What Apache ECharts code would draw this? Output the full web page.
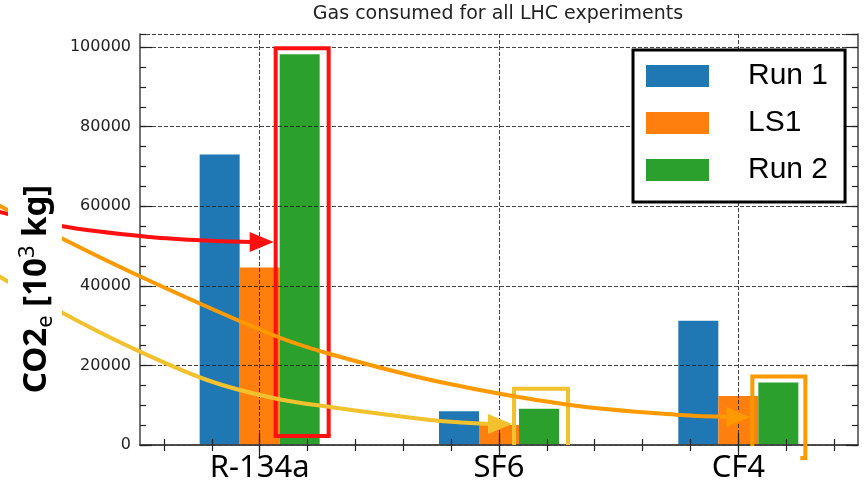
<!DOCTYPE html>
<html>
<head>
<meta charset="utf-8">
<script src="https://cdn.jsdelivr.net/npm/echarts@6/dist/echarts.min.js"></script>
<style>
  html, body { margin: 0; padding: 0; background: #fff; }
  #chart { width: 864px; height: 486px; }
</style>
</head>
<body>
<div id="chart"></div>
<script>
// ---------------- data ----------------
const categories = ['R-134a', 'SF6', 'CF4'];
const seriesNames = ['Run 1', 'LS1', 'Run 2'];
const run1 = [73000, 8500, 31200];
const ls1 = [44600, 5000, 12300];
const run2 = [98200, 9100, 15700];
const yMin = 0;
const yMax = 103300;
const yMajorStep = 20000;
const yMinorStep = 5000;
const minorXSlots = ['m0','m1','m2','m3','m4','m5','m6','m7','m8','m9','m10','m11','m12','m13','m14'];

// ---------------- styles ----------------
const COLORS = ['#1f77b4', '#ff7f0e', '#2ca02c'];
const BAR_W = 40;
const AXIS_COLOR = '#444';
const gridLine = { show: true, lineStyle: { color: '#222', width: 1, type: [4, 2], opacity: 0.85 } };

const chart = echarts.init(document.getElementById('chart'), null, { renderer: 'canvas' });

function xAx(pos, data, tickLen, withLine, extra) {
  return Object.assign({
    type: 'category', position: pos, data: data, boundaryGap: true, z: 3,
    axisLine: { show: withLine, lineStyle: { color: AXIS_COLOR, width: 1.5 } },
    axisTick: { show: true, inside: true, alignWithLabel: true, interval: 0, length: tickLen, lineStyle: { color: '#222', width: 1.2 } },
    axisLabel: { show: false },
    splitLine: { show: false }
  }, extra || {});
}
function yAx(pos, step, tickLen, withLine, extra) {
  return Object.assign({
    type: 'value', position: pos, min: yMin, max: yMax, interval: step, z: 3,
    axisLine: { show: withLine, lineStyle: { color: AXIS_COLOR, width: 1.5 } },
    axisTick: { show: true, inside: true, length: tickLen, lineStyle: { color: '#222', width: 1.2 } },
    axisLabel: { show: false },
    splitLine: { show: false }
  }, extra || {});
}

const option = {
  animation: false,
  backgroundColor: '#fff',
  title: {
    text: 'Gas consumed for all LHC experiments',
    left: 498, top: 0, textAlign: 'center',
    padding: [5, 0, 4, 0],
    textStyle: { fontFamily: 'DejaVu Sans', fontSize: 19, fontWeight: 'normal', color: '#222' }
  },
  grid: { left: 139, right: 6, top: 34, bottom: 41, containLabel: false },
  legend: {
    data: seriesNames,
    orient: 'vertical',
    left: 633, top: 50,
    padding: [11, 17, 17, 13],
    itemWidth: 63, itemHeight: 22, itemGap: 17,
    icon: 'rect',
    borderColor: '#000', borderWidth: 3, backgroundColor: '#fff',
    textStyle: { fontFamily: 'Liberation Sans', fontSize: 30, color: '#000', padding: [0, 0, 0, 34] }
  },
  xAxis: [
    xAx('bottom', categories, 12, true, {
      axisLabel: { show: true, fontFamily: 'Noto Sans', fontSize: 31, color: '#000', margin: 8 },
      splitLine: Object.assign({ alignWithLabel: true }, gridLine)
    }),
    xAx('bottom', minorXSlots, 6, false),
    xAx('top', categories, 12, true),
    xAx('top', minorXSlots, 6, false)
  ],
  yAxis: [
    yAx('left', yMajorStep, 12, true, {
      axisLabel: { show: true, fontFamily: 'DejaVu Sans', fontSize: 16, color: '#222', margin: 9, showMaxLabel: false,
                   formatter: function (v) { return String(v); } },
      splitLine: gridLine
    }),
    yAx('left', yMinorStep, 6, false),
    yAx('right', yMajorStep, 12, true),
    yAx('right', yMinorStep, 6, false),
    {
      type: 'value', position: 'left', min: 0, max: 1, z: 20,
      axisLine: { show: false }, axisTick: { show: false }, axisLabel: { show: false }, splitLine: { show: false },
      name: '{b|CO2}{s|e}{b| [10}{p|3}{b| kg]}',
      nameLocation: 'middle', nameRotate: 90, nameGap: 78,
      nameTextStyle: {
        backgroundColor: '#fff',
        padding: [9, 103, 5, 4],
        rich: {
          b: { fontFamily: 'Noto Sans', fontWeight: 'bold', fontSize: 33, color: '#000', lineHeight: 40 },
          s: { fontFamily: 'Noto Sans', fontWeight: 'normal', fontSize: 22, color: '#000', lineHeight: 24, verticalAlign: 'bottom' },
          p: { fontFamily: 'Noto Sans', fontWeight: 'normal', fontSize: 22, color: '#000', lineHeight: 22, verticalAlign: 'top' }
        }
      }
    }
  ],
  series: [
    { name: seriesNames[0], type: 'bar', data: run1, barWidth: BAR_W, barGap: '0%', itemStyle: { color: COLORS[0] }, z: 2 },
    { name: seriesNames[1], type: 'bar', data: ls1, barWidth: BAR_W, barGap: '0%', itemStyle: { color: COLORS[1] }, z: 2 },
    { name: seriesNames[2], type: 'bar', data: run2, barWidth: BAR_W, barGap: '0%', itemStyle: { color: COLORS[2] }, z: 2 }
  ]
};
chart.setOption(option);

// ---------------- annotations (frames + arrows) ----------------
const RED = '#ff1010', ORANGE = '#ff9900', YELLOW = '#f2c12e';
const px = (ci, v) => chart.convertToPixel({ xAxisIndex: 0, yAxisIndex: 0 }, [ci, v]);
const baseY = px(0, 0)[1];

function greenBar(ci) {
  const p = px(ci, run2[ci]);
  return { x: p[0] + BAR_W, top: p[1] };
}
const gR = greenBar(0), gS = greenBar(1), gC = greenBar(2);

const redL = gR.x - 24, redR = gR.x + 29, redT = gR.top - 6, redB = baseY - 9;
const yelL = gS.x - 25, yelR = gS.x + 29, yelT = gS.top - 20;
const oraL = gC.x - 26, oraR = gC.x + 27, oraT = gC.top - 6;

function arrow(points, tip, color) {
  const shaftEnd = [tip[0] - 20, tip[1]];
  return [
    { type: 'polyline', z: 10, shape: { points: points.concat([shaftEnd]), smooth: 0.35 },
      style: { stroke: color, lineWidth: 4, fill: null } },
    { type: 'polygon', z: 10, shape: { points: [[tip[0], tip[1]], [tip[0] - 24, tip[1] - 10], [tip[0] - 24, tip[1] + 10]] },
      style: { fill: color, stroke: null } }
  ];
}

const graphics = [
  { type: 'polyline', z: 10, shape: { points: [[redL, redB], [redL, redT], [redR, redT], [redR, redB]] },
    style: { stroke: RED, lineWidth: 4, fill: null } },
  { type: 'polyline', z: 10, shape: { points: [[redL - 2, redB], [redR + 2, redB]] },
    style: { stroke: RED, lineWidth: 4, fill: null } },
  { type: 'polyline', z: 10, shape: { points: [[yelL, baseY], [yelL, yelT], [yelR, yelT], [yelR, baseY]] },
    style: { stroke: YELLOW, lineWidth: 4, fill: null } },
  { type: 'polyline', z: 10, shape: { points: [[oraL, baseY + 1], [oraL, oraT], [oraR, oraT], [oraR, baseY + 13], [oraR - 5, baseY + 13]] },
    style: { stroke: ORANGE, lineWidth: 4, fill: null } }
].concat(
  arrow([[-15, 208], [61, 226], [150, 237], [215, 241]], [redL - 2, 242], RED),
  arrow([[-15, 198], [61, 238], [150, 281], [273, 335], [330, 354], [440, 382], [570, 405], [680, 415]], [oraL - 2, 417], ORANGE),
  arrow([[-15, 268], [61, 312], [130, 347], [207, 380], [273, 398], [330, 407], [430, 420], [470, 423]], [yelL - 2, 424], YELLOW)
);

chart.setOption({ graphic: graphics });
</script>
</body>
</html>
